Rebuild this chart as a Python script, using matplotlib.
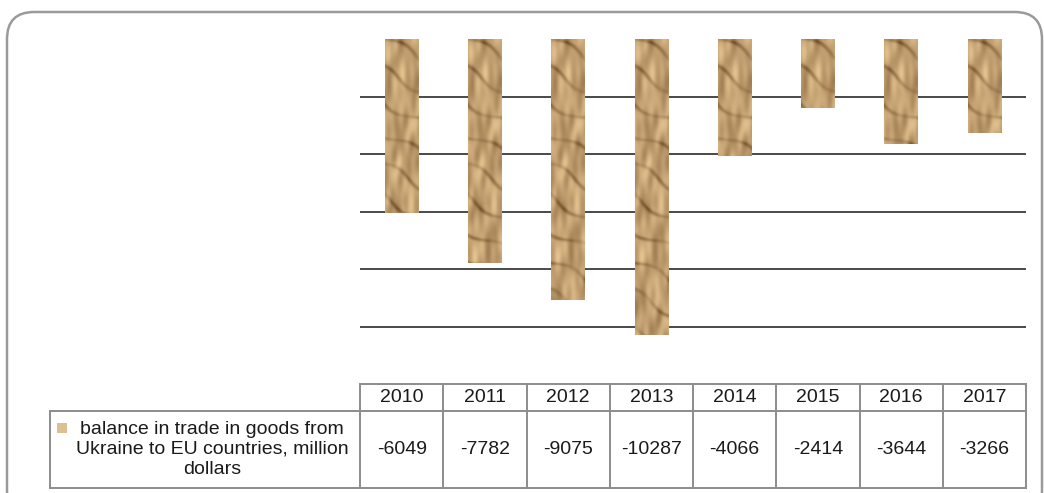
import numpy as np
import matplotlib.pyplot as plt
from matplotlib.patches import FancyBboxPatch, Rectangle

years = ['2010', '2011', '2012', '2013', '2014', '2015', '2016', '2017']
balance = [-6049, -7782, -9075, -10287, -4066, -2414, -3644, -3266]
series_label = 'balance in trade in goods from\nUkraine to EU countries, million\ndollars'
grid_vals = [-2000, -4000, -6000, -8000, -10000]

plt.rcParams['font.family'] = ['Liberation Sans', 'DejaVu Sans']

W, H = 1044, 493
fig = plt.figure(figsize=(W / 100, H / 100), dpi=100)

# rounded frame around the whole chart
frame = FancyBboxPatch((7 / W, -0.05), 1035 / W, (H - 12) / H + 0.05,
                       boxstyle='round,pad=0,rounding_size=0.026',
                       transform=fig.transFigure, fc='none', ec='#9a9a9a', lw=1.8,
                       mutation_aspect=W / H, zorder=-1)
fig.patches.append(frame)

ax = fig.add_axes([360 / W, 1 - 384 / H, 666 / W, 345 / H])
ax.set_xlim(-0.5, len(years) - 0.5)
ax.set_ylim(-12000, 0)
ax.axis('off')
for g in grid_vals:
    ax.axhline(g, color='#2a2a2a', lw=1.2, zorder=1)

x = np.arange(len(years))
bars = ax.bar(x, balance, width=0.4, color='#c4a276', zorder=2)

# crumpled-paper texture clipped into every bar (same image, anchored at top)
ty, tx = np.mgrid[0:10:500j, 0:1:40j]
waves = [(2.1, 3.0, 0.0, 0.6), (-1.4, 2.3, 1.1, 0.5), (3.7, 5.2, 2.3, 0.35),
         (-4.9, 4.6, 0.7, 0.3), (1.2, 7.4, 4.1, 0.25), (6.3, 1.6, 5.2, 0.3)]
tex = np.zeros_like(tx)
for kx, ky, ph, amp in waves:
    tex += amp * np.sin(kx * tx * 4 + ky * ty + ph + 0.6 * np.sin(ty * 1.3 + tx * 3))
tex = (tex - tex.min()) / (tex.max() - tex.min())
warp = ty - 0.5 * tx + 0.15 * np.sin(ty * 1.9 + tx * 2.5)
crease = np.exp(-(np.sin(warp * 3.4) ** 2) / 0.05)
crease *= 0.35 + 0.65 * np.sin(ty * 0.7 + 2.0 * tx + 0.4) ** 2
shade = np.clip(0.6 * tex + 0.4 - 0.45 * crease, 0, 1)
light = np.array([0.90, 0.77, 0.57])
dark = np.array([0.44, 0.30, 0.15])
rgb = dark + (light - dark) * shade[..., None]
for b in bars:
    x0 = b.get_x()
    im = ax.imshow(rgb, extent=(x0, x0 + b.get_width(), -12000, 0), aspect='auto',
                   zorder=3, interpolation='bilinear')
    im.set_clip_path(b)
ax.set_xlim(-0.5, len(years) - 0.5)
ax.set_ylim(-12000, 0)

# data table
tab = fig.add_axes([50 / W, 1 - 488 / H, 976 / W, 104 / H])
left = -0.5 - 310 / 83.25
tab.set_xlim(left, len(years) - 0.5)
tab.set_ylim(0, 104)
tab.axis('off')
ec = '#8c8c8c'
tab.plot([-0.5, len(years) - 0.5], [104, 104], color=ec, lw=1.4, clip_on=False)
tab.plot([left, len(years) - 0.5], [77, 77], color=ec, lw=1.4, clip_on=False)
tab.plot([left, len(years) - 0.5], [0, 0], color=ec, lw=1.4, clip_on=False)
tab.plot([left, left], [0, 77], color=ec, lw=1.4, clip_on=False)
for i in range(len(years) + 1):
    tab.plot([i - 0.5, i - 0.5], [0, 104], color=ec, lw=1.4, clip_on=False)
for i, (yr, v) in enumerate(zip(years, balance)):
    tab.text(i, 90.5, yr, ha='center', va='center', fontsize=14, color='#1a1a1a')
    tab.text(i, 38.5, str(v), ha='center', va='center', fontsize=14, color='#1a1a1a')
lbl_x = left + (212 - 50) / 83.25
tab.text(lbl_x, 38.5, series_label, ha='center', va='center', fontsize=14,
         color='#1a1a1a', linespacing=1.2, multialignment='center')
sq_x = left + (57 - 50) / 83.25
tab.add_patch(Rectangle((sq_x, 55), 10 / 83.25, 10, fc='#dcbf92', ec='none'))

fig.savefig('out.png', dpi=100)
